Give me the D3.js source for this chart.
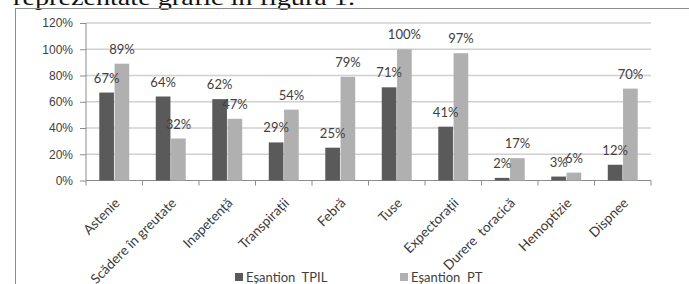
<!DOCTYPE html>
<html>
<head>
<meta charset="utf-8">
<script src="https://cdn.jsdelivr.net/npm/d3@7"></script>
<style>
  body { margin: 0; background: #fff; }
  svg { display: block; font-family: Lato, "Open Sans", sans-serif; }
  .grid line { stroke: #d0d0d0; stroke-width: 1.6; }
  .axis path, .axis line { stroke: #8c8c8c; }
  .axis text { fill: #404040; font-size: 12px; }
  .axis text.cat { fill: #3a3a3a; font-size: 13.5px; }
  .val { fill: #404040; font-size: 13px; text-anchor: middle; }
</style>
</head>
<body>
<svg id="chart" width="689" height="284"></svg>
<script>
const categories = ["Astenie", "Scădere în greutate", "Inapetență", "Transpirații", "Febră",
  "Tuse", "Expectorații", "Durere  toracică", "Hemoptizie", "Dispnee"];
const seriesNames = ["Eșantion  TPIL", "Eșantion  PT"];
const tpilValues = [67, 64, 62, 29, 25, 71, 41, 2, 3, 12];
const ptValues = [89, 32, 47, 54, 79, 100, 97, 17, 6, 70];
const yTicks = [0, 20, 40, 60, 80, 100, 120];
const seriesColors = ["#5a5a5a", "#b0b0b0"];

const svg = d3.select("#chart");

// bit of the paragraph text above the figure (cut by the page edge, as in the scan)
svg.append("text")
  .attr("x", 13)
  .attr("y", 5)
  .attr("textLength", 342)
  .attr("lengthAdjust", "spacingAndGlyphs")
  .style("font-family", "'Liberation Serif', serif")
  .style("font-size", "22px")
  .attr("fill", "#111")
  .text("reprezentate grafic în figura 1.");

// chart frame
svg.append("rect")
  .attr("x", 15.5)
  .attr("y", 8.5)
  .attr("width", 700)
  .attr("height", 300)
  .attr("fill", "none")
  .attr("stroke", "#8c8c8c");

const plotLeft = 86, plotRight = 651, plotTop = 23, plotBottom = 180.5;

const x0 = d3.scaleBand()
  .domain(categories)
  .range([plotLeft, plotRight])
  .paddingInner(0.47)
  .paddingOuter(0.235);

const x1 = d3.scaleBand()
  .domain(seriesNames)
  .range([0, x0.bandwidth()])
  .paddingInner(0.04);

const y = d3.scaleLinear().domain([0, 120]).range([plotBottom, plotTop]);

// gridlines
svg.append("g")
  .attr("class", "grid")
  .selectAll("line")
  .data(yTicks.filter((d) => d > 0))
  .join("line")
  .attr("x1", plotLeft)
  .attr("x2", plotRight)
  .attr("y1", (d) => y(d))
  .attr("y2", (d) => y(d));

// y axis
const yAxis = svg.append("g")
  .attr("class", "axis")
  .attr("transform", `translate(${plotLeft},0)`)
  .call(d3.axisLeft(y).tickValues(yTicks).tickFormat((d) => d + "%").tickSize(6).tickPadding(7));
yAxis.select(".domain").attr("d", `M0,${plotTop}V${plotBottom}`);

// x axis: line plus ticks at band boundaries
const xAxis = svg.append("g").attr("class", "axis");
xAxis.append("line")
  .attr("x1", plotLeft).attr("x2", plotRight)
  .attr("y1", plotBottom).attr("y2", plotBottom);

const step = x0.step();
xAxis.selectAll("line.tk")
  .data(d3.range(categories.length + 1))
  .join("line")
  .attr("class", "tk")
  .attr("x1", (i) => plotLeft + i * step)
  .attr("x2", (i) => plotLeft + i * step)
  .attr("y1", plotBottom)
  .attr("y2", plotBottom + 5);

xAxis.selectAll("text")
  .data(categories)
  .join("text")
  .attr("class", "cat")
  .attr("transform", (d) => `translate(${x0(d) + x0.bandwidth() / 2 + 3},${plotBottom + 20}) rotate(-45)`)
  .attr("text-anchor", "end")
  .attr("dy", "0.35em")
  .style("white-space", "pre")
  .text((d) => d);

// bars
const rows = categories.map((c, i) => ({
  category: c,
  values: [
    { series: seriesNames[0], value: tpilValues[i], color: seriesColors[0] },
    { series: seriesNames[1], value: ptValues[i], color: seriesColors[1] },
  ],
}));

const groups = svg.append("g")
  .selectAll("g")
  .data(rows)
  .join("g")
  .attr("transform", (d) => `translate(${x0(d.category)},0)`);

groups.selectAll("rect")
  .data((d) => d.values)
  .join("rect")
  .attr("x", (d) => x1(d.series))
  .attr("y", (d) => y(d.value))
  .attr("width", x1.bandwidth())
  .attr("height", (d) => plotBottom - y(d.value))
  .attr("fill", (d) => d.color);

groups.selectAll("text")
  .data((d) => d.values)
  .join("text")
  .attr("class", "val")
  .attr("x", (d) => x1(d.series) + x1.bandwidth() / 2)
  .attr("y", (d) => y(d.value) - 10)
  .text((d) => d.value + "%");

// legend
const legendX = [235, 400];
const legend = svg.append("g")
  .selectAll("g")
  .data(seriesNames)
  .join("g")
  .attr("transform", (d, i) => `translate(${legendX[i]},273)`);

legend.append("rect")
  .attr("width", 8)
  .attr("height", 8)
  .attr("fill", (d, i) => seriesColors[i]);

legend.append("text")
  .attr("x", 11)
  .attr("y", 4)
  .attr("dy", "0.36em")
  .attr("fill", "#404040")
  .style("font-size", "13px")
  .style("white-space", "pre")
  .text((d) => d);
</script>
</body>
</html>
